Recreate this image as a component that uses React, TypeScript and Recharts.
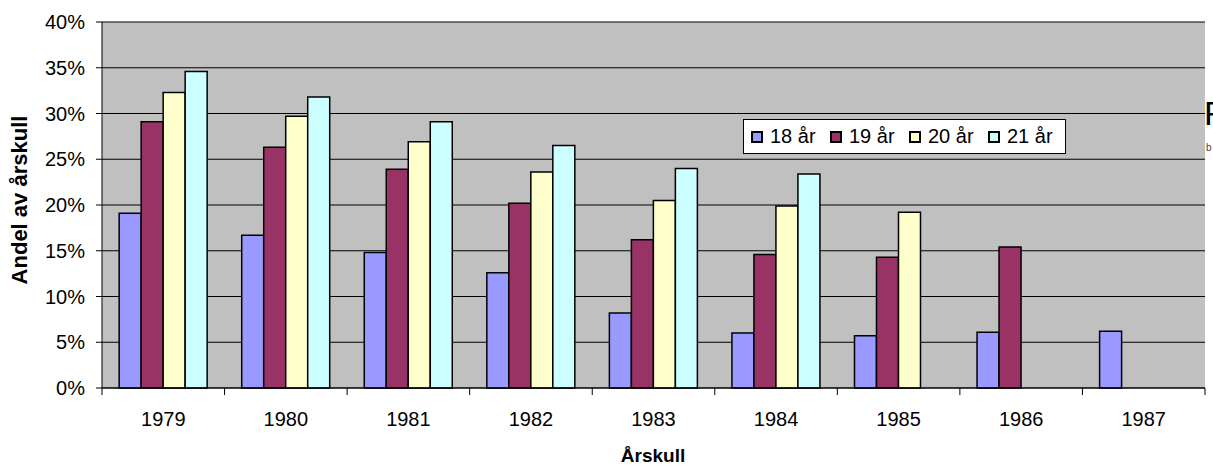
import React from "react";
import { BarChart, Bar, XAxis, YAxis, CartesianGrid } from "recharts";

const categories = ["1979", "1980", "1981", "1982", "1983", "1984", "1985", "1986", "1987"];
const age18 = [19.1, 16.7, 14.8, 12.6, 8.2, 6.0, 5.7, 6.1, 6.2];
const age19 = [29.1, 26.3, 23.9, 20.2, 16.2, 14.6, 14.3, 15.4, null];
const age20 = [32.3, 29.7, 26.9, 23.6, 20.5, 19.9, 19.2, null, null];
const age21 = [34.6, 31.8, 29.1, 26.5, 24.0, 23.4, null, null, null];
const yTicks = [0, 5, 10, 15, 20, 25, 30, 35, 40];

const seriesNames = ["18 år", "19 år", "20 år", "21 år"];
const seriesKeys = ["a18", "a19", "a20", "a21"];
const seriesColors = ["#9999FF", "#993366", "#FFFFCC", "#CCFFFF"];

const data = categories.map((c, i) => ({
  year: c,
  a18: age18[i],
  a19: age19[i],
  a20: age20[i],
  a21: age21[i],
}));

const W = 1213;
const H = 465;
const M = { top: 22, right: 8, bottom: 0, left: 0 };
const Y_W = 102;
const X_H = 77;
const BW = (W - M.left - M.right - Y_W) / categories.length;
const FONT = "Arial, 'Liberation Sans', sans-serif";

const XTick = (props: any) => {
  const { x, y, payload, index } = props;
  return (
    <g>
      <line x1={x - BW / 2} x2={x - BW / 2} y1={y} y2={y + 7} stroke="#000" strokeWidth={1} />
      {index === categories.length - 1 && (
        <line x1={x + BW / 2} x2={x + BW / 2} y1={y} y2={y + 7} stroke="#000" strokeWidth={1} />
      )}
      <text x={x} y={y + 38} textAnchor="middle" fontSize={20} fontFamily={FONT} fill="#000">
        {payload.value}
      </text>
    </g>
  );
};

const YLabel = () => (
  <text
    transform="translate(27,200) rotate(-90)"
    textAnchor="middle"
    fontFamily={FONT}
    fontSize={22}
    fontWeight="bold"
    fill="#000"
  >
    Andel av årskull
  </text>
);

const XLabel = () => (
  <text x={653} y={462} textAnchor="middle" fontFamily={FONT} fontSize={19} fontWeight="bold" fill="#000">
    Årskull
  </text>
);

const LegendBox = () => (
  <div
    style={{
      position: "absolute",
      left: 743,
      top: 119,
      boxSizing: "border-box",
      width: 323,
      height: 35,
      background: "#fff",
      border: "1px solid #000",
      display: "flex",
      alignItems: "center",
      paddingLeft: 7,
      fontFamily: FONT,
      fontSize: 20,
      color: "#000",
    }}
  >
    {seriesNames.map((n, i) => (
      <div key={n} style={{ display: "flex", alignItems: "center", width: i < 3 ? 79 : 72 }}>
        <span
          style={{
            display: "inline-block",
            boxSizing: "border-box",
            width: 12,
            height: 12,
            background: seriesColors[i],
            border: "2px solid #000",
            marginRight: 7,
          }}
        />
        <span>{n}</span>
      </div>
    ))}
  </div>
);

export default function App() {
  return (
    <div style={{ position: "fixed", left: 0, top: 0, width: W, height: H, background: "#fff", overflow: "hidden" }}>
      <BarChart width={W} height={H} data={data} margin={M} barCategoryGap="14%" barGap={0}>
        <CartesianGrid vertical={false} stroke="#000" strokeWidth={1} fill="#C0C0C0" fillOpacity={1} />
        <XAxis
          dataKey="year"
          height={X_H}
          axisLine={{ stroke: "#000", strokeWidth: 1 }}
          tickLine={false}
          tickSize={0}
          tickMargin={0}
          tick={<XTick />}
          interval={0}
          label={<XLabel />}
        />
        <XAxis
          xAxisId="top"
          dataKey="year"
          orientation="top"
          height={0}
          tick={false}
          tickLine={false}
          axisLine={{ stroke: "#808080", strokeWidth: 2 }}
        />
        <YAxis
          width={Y_W}
          domain={[0, 40]}
          ticks={yTicks}
          interval={0}
          tickFormatter={(v: number) => `${v}%`}
          tickSize={6}
          tickMargin={11}
          axisLine={{ stroke: "#000", strokeWidth: 1 }}
          tickLine={{ stroke: "#000" }}
          tick={{ fontFamily: FONT, fontSize: 20, fill: "#000" }}
          label={<YLabel />}
        />
        <YAxis
          yAxisId="right"
          orientation="right"
          width={0}
          domain={[0, 40]}
          tick={false}
          tickLine={false}
          axisLine={{ stroke: "#808080", strokeWidth: 2 }}
        />
        {seriesKeys.map((k, i) => (
          <Bar
            key={k}
            dataKey={k}
            name={seriesNames[i]}
            fill={seriesColors[i]}
            stroke="#000"
            strokeWidth={1.5}
            isAnimationActive={false}
          />
        ))}
      </BarChart>
      <LegendBox />
      <svg style={{ position: "absolute", left: 1206, top: 90, width: 7, height: 70, overflow: "hidden" }}>
        <text x={-2} y={35} fontFamily={FONT} fontSize={34} fill="#000">F</text>
        <text x={0} y={61} fontFamily={FONT} fontSize={10} fill="#444">b</text>
      </svg>
    </div>
  );
}
